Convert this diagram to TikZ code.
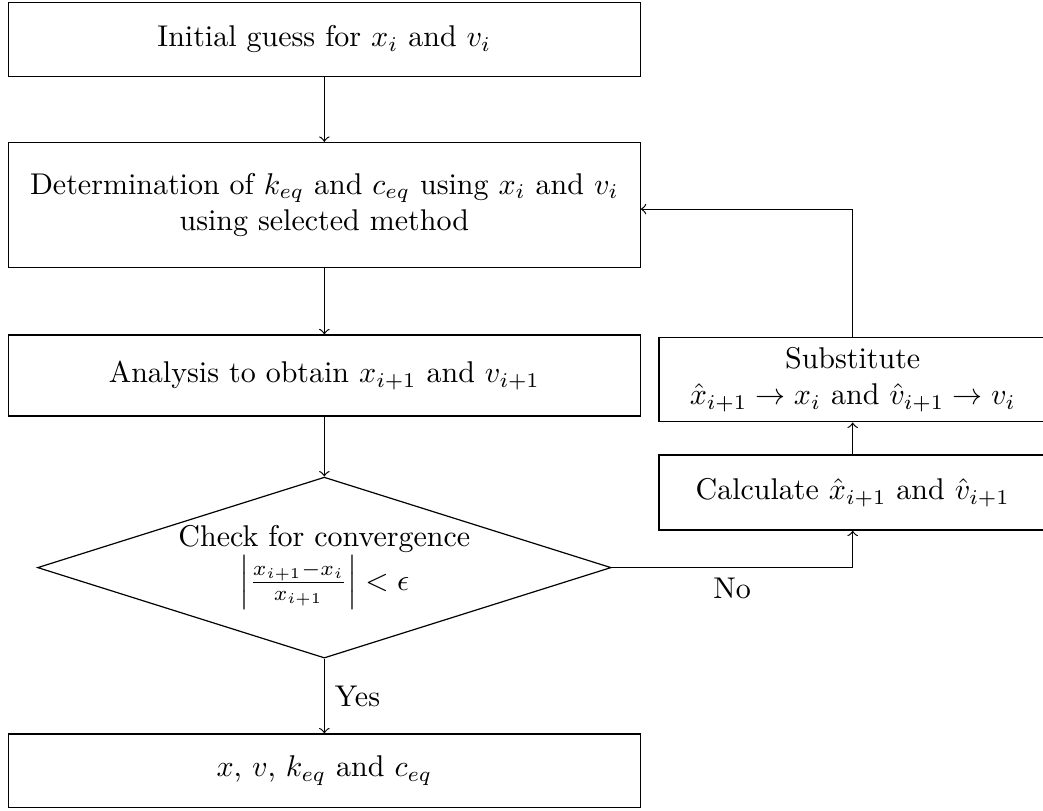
\documentclass[tikz,border=0pt]{standalone}
\usepackage{amsmath}
\usepackage{amssymb}
\usepackage{tikz}
\usetikzlibrary{shapes.geometric}
\tikzset{%
  arr/.style = {-to},
  b/.style = {rectangle,draw,minimum width=7.40cm,
        align=center},
  rb/.style = {rectangle,draw,minimum width=4.54cm,
        minimum height=0.88cm,align=center},
  d/.style = {diamond,draw,minimum width=6.72cm,
        minimum height=2.12cm}
}
\begin{document}
\begin{tikzpicture}
\useasboundingbox (0,0) rectangle (12.22,-9.50);
\node[b,minimum height=0.87cm] (init) at (3.80,-0.46) {Initial guess for $x_i$ and $v_i$};
\node[b,minimum height=1.46cm] (det) at (3.80,-2.40) {Determination of $k_{eq}$ and $c_{eq}$ using $x_i$ and $v_i$\\ using selected method};
\node[b,minimum height=0.95cm] (ana) at (3.80,-4.40) {Analysis to obtain $x_{i+1}$ and $v_{i+1}$};
\node[d] (check) at (3.80,-6.65) {};
\node[align=center] (crit) at (check) {Check for convergence\\ $\left|\frac{x_{i+1}-x_i}{x_{i+1}}\right| < \epsilon$};
\node[b,minimum height=0.86cm] (res) at (3.80,-9.03) {$x$, $v$, $k_{eq}$ and $c_{eq}$};
\node[rb] (calc) at (9.99,-5.77) {Calculate $\hat{x}_{i+1}$ and $\hat{v}_{i+1}$};
\node[rb] (subst) at (9.99,-4.45) {Substitute\\ $\hat{x}_{i+1}\rightarrow x_i$ and $\hat{v}_{i+1}\rightarrow v_i$};
\coordinate (back) at (9.99,-2.45);

\draw[arr] (init) -- (det);
\draw[arr] (det) -- (ana);
\draw[arr] (ana) -- (check);
\draw[arr] (check) -- node[right] {Yes} (res);
\draw[arr] (check.east) -| node[pos=0.25,below] {No} (calc.south);
\draw[arr] (calc) -- (subst);
\draw[arr] (subst.north) -- (back) -- (back -| det.east);
\end{tikzpicture}
\end{document}
